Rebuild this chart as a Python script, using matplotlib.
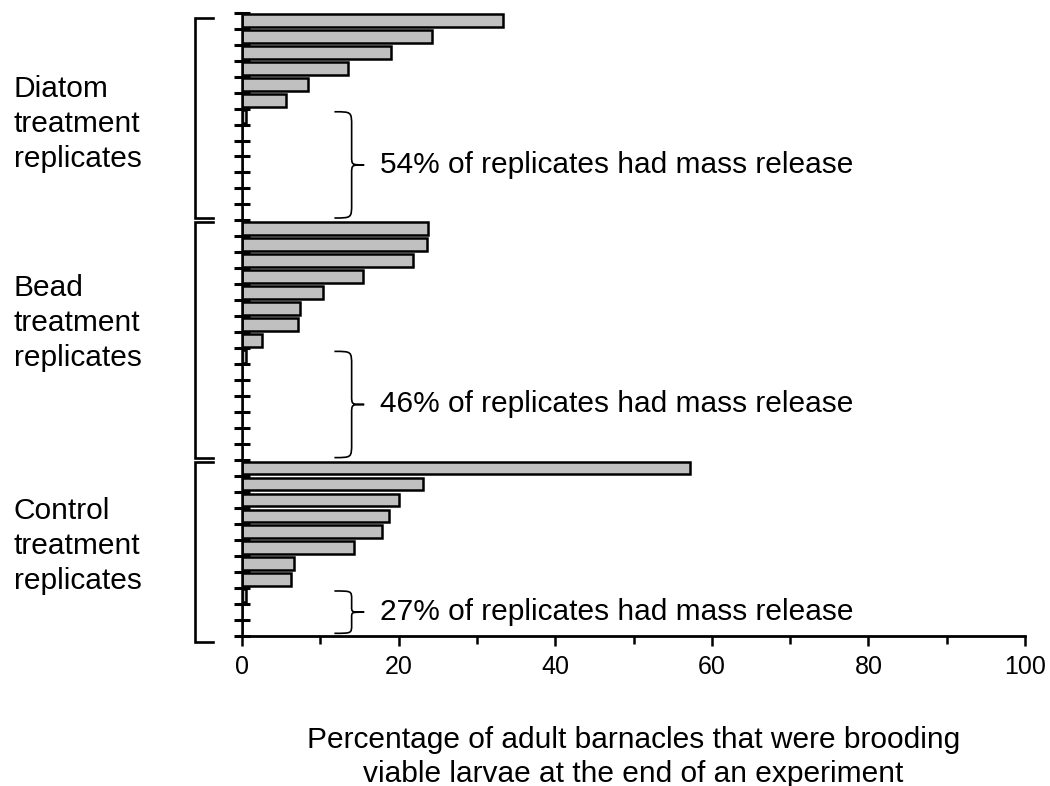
import numpy as np
import matplotlib
matplotlib.use("Agg")
import matplotlib.pyplot as plt
import matplotlib.ticker as ticker
from matplotlib.path import Path
from matplotlib.patches import PathPatch
from matplotlib.transforms import blended_transform_factory

plt.rcParams['font.family'] = ['Liberation Sans', 'DejaVu Sans']

# percentage of brooding adults per replicate, sorted high to low
groups = ["Diatom\ntreatment\nreplicates",
          "Bead\ntreatment\nreplicates",
          "Control\ntreatment\nreplicates"]
diatom = [33.3, 24.3, 19.0, 13.5, 8.4, 5.6, 0.5, 0, 0, 0, 0, 0, 0]
bead = [23.7, 23.6, 21.8, 15.4, 10.3, 7.4, 7.2, 2.5, 0.5, 0, 0, 0, 0, 0, 0]
control = [57.2, 23.1, 20.0, 18.8, 17.9, 14.3, 6.7, 6.3, 0.5, 0, 0]
release_pct = ["54%", "46%", "27%"]

series = [diatom, bead, control]
values = np.concatenate(series)
sizes = [len(s) for s in series]
n = len(values)
rows = np.arange(n)

fig = plt.figure(figsize=(10.5, 7.86), dpi=100)
ax = fig.add_axes([0.2305, 0.1912, 0.7457, 0.7926])

ax.barh(rows, values, height=0.8, color="#c0c0c0", edgecolor="black",
        linewidth=1.8, zorder=2)

ax.set_xlim(0, 100)
ax.set_ylim(n - 0.5, -0.5)

for side in ["top", "right"]:
    ax.spines[side].set_visible(False)
ax.spines["left"].set_linewidth(1.8)
ax.spines["bottom"].set_linewidth(2)

ax.set_yticks(np.arange(n + 1) - 0.5)
ax.set_yticklabels([])
ax.tick_params(axis="y", direction="inout", length=11, width=2.2)

ax.xaxis.set_major_locator(ticker.MultipleLocator(20))
ax.xaxis.set_minor_locator(ticker.MultipleLocator(10))
ax.tick_params(axis="x", which="major", direction="out", length=7,
               width=1.8, pad=7, labelsize=18)
ax.tick_params(axis="x", which="minor", direction="out", length=5.5,
               width=1.8)

ax.set_xlabel("Percentage of adult barnacles that were brooding\n"
              "viable larvae at the end of an experiment",
              fontsize=21.5, labelpad=34, linespacing=1.25)


def brace(ax, y0, y1, x0=11.8, xm=14.0, xt=15.6):
    yc = (y0 + y1) / 2
    r = min(0.9, (y1 - y0) / 5)
    rm = r * 0.6
    verts = [(x0, y0), (xm, y0), (xm, y0), (xm, y0 + r),
             (xm, yc - rm),
             (xm, yc), (xm, yc), (xt, yc),
             (xm, yc), (xm, yc), (xm, yc + rm),
             (xm, y1 - r),
             (xm, y1), (xm, y1), (x0, y1)]
    codes = [Path.MOVETO] + [Path.CURVE4] * 3 + [Path.LINETO] + \
            [Path.CURVE4] * 6 + [Path.LINETO] + [Path.CURVE4] * 3
    ax.add_patch(PathPatch(Path(verts, codes), fill=False, lw=1.2,
                           edgecolor="black", zorder=3, clip_on=False))
    return yc


# group brackets on the far left and group names
fig_y = blended_transform_factory(fig.transFigure, ax.transData)
label_y = [6.45, 18.9, 32.9]
starts = np.cumsum([0] + sizes[:-1]) - 0.5
ends = starts + np.array(sizes)
for i, (s, e) in enumerate(zip(starts, ends)):
    top = s + (0.35 if i == 0 else 0.1)
    bot = e + (0.4 if i == len(sizes) - 1 else -0.12)
    ax.plot([0.2029, 0.1857, 0.1857, 0.2029], [top, top, bot, bot],
            color="black", lw=1.9, transform=fig_y, clip_on=False,
            solid_joinstyle="miter")
    ax.text(0.0133, label_y[i], groups[i], transform=fig_y, ha="left",
            va="center", fontsize=21.5, linespacing=1.32)

    # replicates with (near) zero brooding had a mass release
    grp = np.asarray(series[i])
    n_rel = int(np.sum(grp < 1))
    yc = brace(ax, e - n_rel + 0.2, e - 0.15)
    ax.text(17.6, yc, release_pct[i] + " of replicates had mass release",
            ha="left", va="center", fontsize=21.5)

fig.savefig("out.png", dpi=100)
